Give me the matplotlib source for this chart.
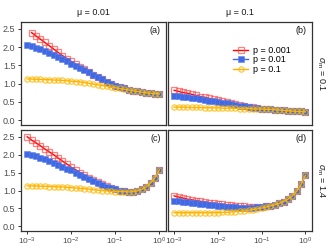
import numpy as np
import matplotlib
matplotlib.use("Agg")
import matplotlib.pyplot as plt

plt.rcParams['font.family'] = ['Liberation Sans', 'DejaVu Sans']
plt.rcParams['mathtext.fontset'] = 'custom'
plt.rcParams['mathtext.rm'] = 'Liberation Sans'
plt.rcParams['mathtext.it'] = 'Liberation Sans:italic'

# x grid: 10^-3 ... 10^0, 31 log-spaced points (step 0.1 decade)
x_exp = [-3.0, -2.9, -2.8, -2.7, -2.6, -2.5, -2.4, -2.3, -2.2, -2.1, -2.0,
         -1.9, -1.8, -1.7, -1.6, -1.5, -1.4, -1.3, -1.2, -1.1, -1.0,
         -0.9, -0.8, -0.7, -0.6, -0.5, -0.4, -0.3, -0.2, -0.1, 0.0]
x = [10 ** e for e in x_exp]

p_labels = ["p = 0.001", "p = 0.01", "p = 0.1"]
mu_labels = ["\u03bc = 0.01", "\u03bc = 0.1"]
sigma_labels = [r"$\sigma_\mathrm{m}$ = 0.1", r"$\sigma_\mathrm{m}$ = 1.4"]
panel_tags = ["(a)", "(b)", "(c)", "(d)"]

nan = float('nan')

# panel (a): mu = 0.01, sigma_m = 0.1
a_p001 = [nan, 2.40, 2.31, 2.22, 2.13, 2.04, 1.95, 1.86, 1.77, 1.69, 1.61,
          1.54, 1.46, 1.39, 1.32, 1.25, 1.19, 1.12, 1.06, 1.00, 0.95,
          0.91, 0.87, 0.84, 0.81, 0.79, 0.77, 0.75, 0.74, 0.73, 0.72]
a_p01 = [2.06, 2.02, 1.98, 1.94, 1.89, 1.84, 1.79, 1.73, 1.67, 1.61, 1.55,
         1.49, 1.43, 1.37, 1.31, 1.25, 1.19, 1.12, 1.06, 1.00, 0.95,
         0.91, 0.87, 0.84, 0.81, 0.79, 0.77, 0.75, 0.74, 0.73, 0.72]
a_p1 = [1.13, 1.13, 1.12, 1.12, 1.11, 1.11, 1.10, 1.10, 1.09, 1.08, 1.07,
        1.06, 1.05, 1.03, 1.01, 0.99, 0.97, 0.95, 0.93, 0.91, 0.89,
        0.87, 0.85, 0.83, 0.81, 0.79, 0.77, 0.75, 0.74, 0.73, 0.72]

# panel (b): mu = 0.1, sigma_m = 0.1
b_p001 = [0.82, 0.79, 0.76, 0.74, 0.71, 0.68, 0.65, 0.63, 0.60, 0.57, 0.55,
          0.52, 0.49, 0.47, 0.44, 0.42, 0.40, 0.37, 0.35, 0.33, 0.32,
          0.31, 0.30, 0.29, 0.28, 0.27, 0.26, 0.25, 0.24, 0.24, 0.23]
b_p01 = [0.67, 0.66, 0.64, 0.63, 0.61, 0.60, 0.58, 0.56, 0.54, 0.52, 0.50,
         0.48, 0.46, 0.44, 0.42, 0.40, 0.38, 0.36, 0.34, 0.33, 0.32,
         0.31, 0.30, 0.29, 0.28, 0.27, 0.26, 0.25, 0.24, 0.24, 0.23]
b_p1 = [0.36, 0.36, 0.36, 0.35, 0.35, 0.35, 0.35, 0.34, 0.34, 0.34, 0.34,
        0.33, 0.33, 0.33, 0.33, 0.32, 0.32, 0.32, 0.31, 0.31, 0.31,
        0.30, 0.30, 0.29, 0.28, 0.27, 0.26, 0.25, 0.24, 0.24, 0.23]

# panel (c): mu = 0.01, sigma_m = 1.4
c_p001 = [2.50, 2.41, 2.33, 2.25, 2.16, 2.08, 2.00, 1.91, 1.82, 1.74, 1.65,
          1.58, 1.50, 1.43, 1.36, 1.29, 1.23, 1.18, 1.13, 1.08, 1.04,
          1.00, 0.98, 0.97, 0.97, 0.99, 1.03, 1.10, 1.21, 1.36, 1.58]
c_p01 = [2.02, 2.00, 1.97, 1.92, 1.88, 1.82, 1.77, 1.72, 1.67, 1.61, 1.56,
         1.50, 1.44, 1.38, 1.32, 1.26, 1.21, 1.16, 1.11, 1.07, 1.03,
         1.00, 0.98, 0.97, 0.97, 0.99, 1.03, 1.10, 1.21, 1.36, 1.58]
c_p1 = [1.13, 1.13, 1.13, 1.12, 1.12, 1.11, 1.11, 1.10, 1.10, 1.09, 1.08,
        1.07, 1.06, 1.05, 1.04, 1.02, 1.01, 1.00, 0.99, 0.98, 0.97,
        0.97, 0.97, 0.96, 0.97, 0.99, 1.03, 1.10, 1.21, 1.36, 1.58]

# panel (d): mu = 0.1, sigma_m = 1.4
d_p001 = [0.85, 0.82, 0.79, 0.76, 0.74, 0.72, 0.70, 0.68, 0.66, 0.64, 0.63,
          0.61, 0.60, 0.59, 0.57, 0.56, 0.56, 0.55, 0.55, 0.55, 0.55,
          0.56, 0.58, 0.60, 0.64, 0.69, 0.76, 0.85, 0.98, 1.17, 1.43]
d_p01 = [0.72, 0.71, 0.69, 0.68, 0.66, 0.65, 0.63, 0.62, 0.60, 0.59, 0.58,
         0.56, 0.55, 0.54, 0.53, 0.52, 0.52, 0.51, 0.52, 0.53, 0.54,
         0.56, 0.58, 0.60, 0.64, 0.69, 0.76, 0.85, 0.98, 1.17, 1.43]
d_p1 = [0.38, 0.38, 0.38, 0.38, 0.38, 0.38, 0.38, 0.38, 0.38, 0.38, 0.38,
        0.39, 0.39, 0.40, 0.41, 0.42, 0.43, 0.45, 0.47, 0.49, 0.51,
        0.54, 0.57, 0.60, 0.64, 0.69, 0.76, 0.85, 0.98, 1.17, 1.43]

panels = [[a_p001, a_p01, a_p1], [b_p001, b_p01, b_p1],
          [c_p001, c_p01, c_p1], [d_p001, d_p01, d_p1]]

line_colors = ["#FF0000", "#4169E1", "#FFB000"]
marker_styles = [
    dict(marker='s', mfc='none', mec=(1.0, 0.25, 0.25, 0.65), mew=0.9, ms=3.8),
    dict(marker='s', mfc="#4169E1", mec=(0.35, 0.5, 0.95, 0.6), mew=0.6, ms=3.9),
    dict(marker='o', mfc='none', mec=(1.0, 0.72, 0.0, 0.75), mew=0.9, ms=3.8),
]

fig = plt.figure(figsize=(3.34, 2.47), dpi=100)
W, H = 334.0, 247.0
boxes = [(21, 22, 166, 125), (168, 22, 312, 125),
         (21, 130, 166, 231), (168, 130, 312, 231)]

axes = []
for k, (l, t, r, b) in enumerate(boxes):
    ax = fig.add_axes([l / W, 1 - b / H, (r - l) / W, (b - t) / H])
    axes.append(ax)
    for s, ys in enumerate(panels[k]):
        ax.plot(x, ys, color=line_colors[s], lw=1.0, label=p_labels[s],
                **marker_styles[s])
    ax.set_xscale('log')
    ax.set_xlim(10 ** -3.14, 10 ** 0.15)
    ax.set_ylim(-0.13, 2.69)
    ax.set_yticks([0.0, 0.5, 1.0, 1.5, 2.0, 2.5])
    ax.set_xticks([1e-3, 1e-2, 1e-1, 1e0])
    ax.minorticks_off()
    for sp in ax.spines.values():
        sp.set_color('#333333')
        sp.set_linewidth(0.9)
    ax.tick_params(length=2.5, width=0.7, color='#333333', labelcolor='#4D4D4D',
                   labelsize=6.5, pad=1.5)
    ax.tick_params(axis='x', labelsize=6.0, pad=1.0)
    if k % 2 == 1:
        ax.tick_params(axis='y', left=False, labelleft=False)
    else:
        ax.yaxis.set_major_formatter(matplotlib.ticker.FormatStrFormatter('%.1f'))
    if k < 2:
        ax.tick_params(axis='x', bottom=False, labelbottom=False)
    ax.text(0.965, 0.965, panel_tags[k], transform=ax.transAxes, ha='right',
            va='top', fontsize=6.5, color='#1A1A1A')

for j in range(2):
    l, t, r, b = boxes[j]
    fig.text((l + r) / 2 / W, 1 - 12.5 / H, mu_labels[j], ha='center',
             va='center', fontsize=6.5, color='#1A1A1A')
for i in range(2):
    l, t, r, b = boxes[1 + 2 * i]
    fig.text(321 / W, 1 - (t + b) / 2 / H, sigma_labels[i], ha='center',
             va='center', rotation=-90, fontsize=6.5, color='#1A1A1A')

axes[1].legend(loc='upper left', bbox_to_anchor=(0.41, 0.83), frameon=False,
               fontsize=6.5, handlelength=1.6, handletextpad=0.6,
               labelspacing=0.05, borderpad=0.2)

fig.savefig("out.png", dpi=100)
